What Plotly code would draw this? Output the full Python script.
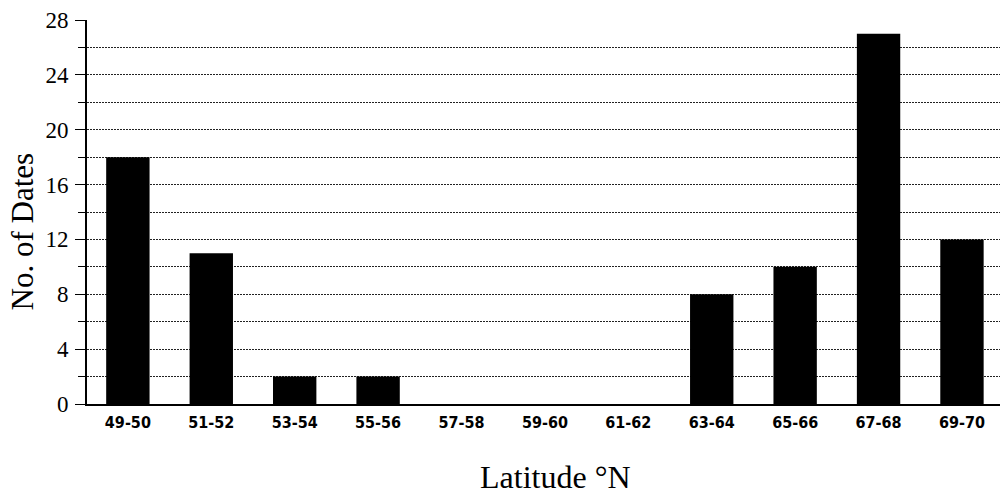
import plotly.graph_objects as go

# Latitude bands (°N) and number of dates recorded in each band
latitude_bands = ["49-50", "51-52", "53-54", "55-56", "57-58", "59-60",
                  "61-62", "63-64", "65-66", "67-68", "69-70"]
date_counts = [18, 11, 2, 2, 0, 0, 0, 8, 10, 27, 12]

y_ticks = [0, 4, 8, 12, 16, 20, 24, 28]

fig = go.Figure()
fig.add_trace(go.Bar(
    x=list(range(len(latitude_bands))),
    y=date_counts,
    width=0.52,
    marker=dict(color="black", line=dict(width=0)),
))

serif = "Liberation Serif, Times New Roman, serif"
grid_dash = "2px,1px"

fig.update_layout(
    width=1000, height=498,
    margin=dict(l=87, r=0, t=20, b=94),
    paper_bgcolor="white", plot_bgcolor="white",
    showlegend=False,
    xaxis=dict(
        range=[-0.49, 10.456],
        tickmode="array",
        tickvals=list(range(len(latitude_bands))),
        ticktext=latitude_bands,
        ticks="", showgrid=False, zeroline=False,
        showline=True, linecolor="black", linewidth=2,
        tickfont=dict(family="Liberation Sans Narrow, DejaVu Sans Condensed, sans-serif",
                      size=16, color="black", weight="bold"),
        ticklabelstandoff=3,
    ),
    yaxis=dict(
        range=[0, 28],
        tickmode="array", tickvals=y_ticks,
        ticks="outside", ticklen=10, tickcolor="black", tickwidth=1,
        showgrid=True, gridcolor="#222", gridwidth=1, griddash=grid_dash,
        minor=dict(dtick=2, ticks="outside", ticklen=7, tickcolor="black",
                   showgrid=True, gridcolor="#222", gridwidth=1, griddash=grid_dash),
        zeroline=False,
        showline=True, linecolor="black", linewidth=2,
        tickfont=dict(family=serif, size=23, color="black"),
        ticklabelstandoff=2,
    ),
    annotations=[
        dict(text="No. of Dates", xref="paper", yref="paper",
             x=-0.071, y=0.45, xanchor="center", yanchor="middle",
             textangle=-90, showarrow=False,
             font=dict(family=serif, size=31, color="black")),
        dict(text="Latitude °N", xref="paper", yref="paper",
             x=0.513, y=-0.19, xanchor="center", yanchor="middle",
             showarrow=False,
             font=dict(family=serif, size=32, color="black")),
    ],
)

fig.write_html("out.html")
